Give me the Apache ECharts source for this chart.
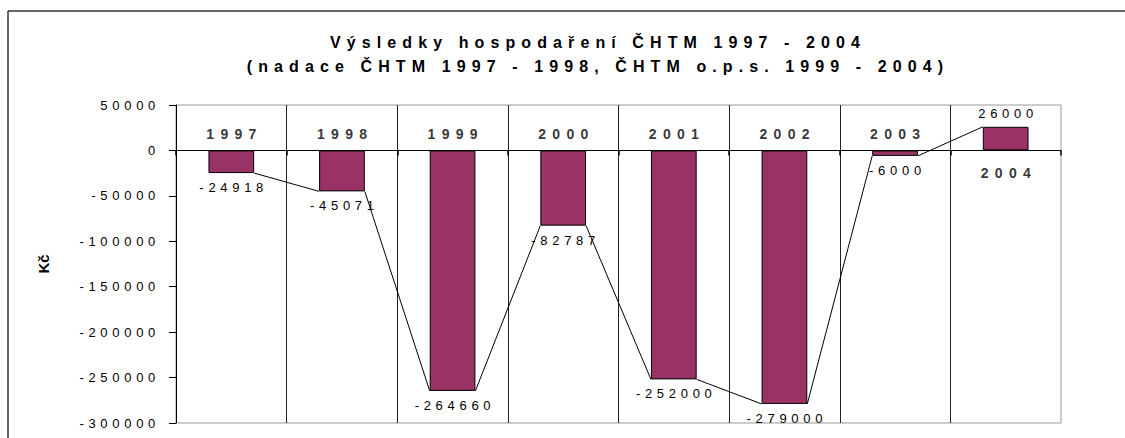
<!DOCTYPE html>
<html>
<head>
<meta charset="utf-8">
<script src="https://cdn.jsdelivr.net/npm/echarts@6/dist/echarts.min.js"></script>
<style>
html, body { margin: 0; padding: 0; background: #fff; }
#c { width: 1125px; height: 438px; }
#c svg text[style*="16px"] { letter-spacing: 6.1px; }
#c svg text[style*="14px"] { letter-spacing: 6.3px; }
#c svg text[style*="13px"] { letter-spacing: 4.7px; }
</style>
</head>
<body>
<div id="c"></div>
<script>
// ---- data ----
const years = ['1997', '1998', '1999', '2000', '2001', '2002', '2003', '2004'];
const results = [-24918, -45071, -264660, -82787, -252000, -279000, -6000, 26000];
const yMin = -300000;
const yMax = 50000;
const yStep = 50000;
const titleLines = ['Výsledky hospodaření ČHTM 1997 - 2004', '(nadace ČHTM 1997 - 1998, ČHTM o.p.s. 1999 - 2004)'];
const yAxisName = 'Kč';

// ---- style ----
const FONT = '"Liberation Sans", Arial, Helvetica, sans-serif';
const BAR_RATIO = 0.413;
const BAR_COLOR = '#993366';

const chart = echarts.init(document.getElementById('c'), null, { renderer: 'svg' });

const barData = results.map(v => ({
  value: v,
  label: { position: v < 0 ? 'bottom' : 'top', distance: v < 0 ? 8 : 7 }
}));

const catLabelData = years.map((y, i) => ({
  name: y,
  value: [i, 0],
  label: { position: results[i] < 0 ? 'top' : 'bottom', distance: results[i] < 0 ? 9 : 15 }
}));

const seriesLineData = results.slice(0, -1).map((v, i) => [i, v, results[i + 1]]);

chart.setOption({
  animation: false,
  backgroundColor: '#fff',
  title: {
    text: titleLines.join('\n'),
    left: 598,
    top: 30,
    padding: 0,
    textAlign: 'center',
    textStyle: {
      fontFamily: FONT,
      fontSize: 16,
      fontWeight: 'bold',
      color: '#000',
      lineHeight: 24
    }
  },
  graphic: [
    {
      type: 'line',
      silent: true,
      z: -10,
      shape: { x1: 8, y1: 11, x2: 1125, y2: 11 },
      style: { stroke: '#333', lineWidth: 1.5 }
    },
    {
      type: 'line',
      silent: true,
      z: -10,
      shape: { x1: 8, y1: 11, x2: 8, y2: 438 },
      style: { stroke: '#333', lineWidth: 1.5 }
    }
  ],
  grid: {
    left: 176,
    right: 64,
    top: 105,
    bottom: 15,
    show: true,
    borderColor: '#999',
    borderWidth: 1,
    backgroundColor: 'transparent',
    containLabel: false,
    outerBoundsMode: 'none'
  },
  xAxis: {
    type: 'category',
    data: years,
    boundaryGap: true,
    axisLine: { show: true, onZero: true, lineStyle: { color: '#000', width: 1 } },
    axisTick: { show: true, length: 5, interval: 0, lineStyle: { color: '#000', width: 1.5 } },
    axisLabel: { show: false },
    splitLine: {
      show: true,
      interval: 0,
      showMinLine: false,
      showMaxLine: false,
      lineStyle: { color: '#222', width: 1 }
    }
  },
  yAxis: {
    type: 'value',
    min: yMin,
    max: yMax,
    interval: yStep,
    name: yAxisName,
    nameLocation: 'middle',
    nameGap: 125,
    nameTextStyle: { fontFamily: FONT, fontSize: 15, fontWeight: 'bold', color: '#000' },
    axisLine: { show: true, onZero: false, lineStyle: { color: '#000', width: 1 } },
    axisTick: { show: true, length: 7, lineStyle: { color: '#000' } },
    axisLabel: {
      show: true,
      margin: 16,
      fontFamily: FONT,
      fontSize: 13,
      color: '#000',
      formatter: v => String(v)
    },
    splitLine: { show: false }
  },
  series: [
    {
      type: 'bar',
      data: barData,
      barWidth: (BAR_RATIO * 100) + '%',
      itemStyle: { color: BAR_COLOR, borderColor: '#000', borderWidth: 1 },
      label: {
        show: true,
        fontFamily: FONT,
        fontSize: 13,
        color: '#000',
        offset: [2.4, 0],
        formatter: p => String(p.value)
      },
      silent: true,
      z: 3
    },
    {
      type: 'custom',
      data: seriesLineData,
      encode: { x: 0, y: [1, 2] },
      silent: true,
      z: 4,
      renderItem: function (params, api) {
        const i = api.value(0);
        const p1 = api.coord([i, api.value(1)]);
        const p2 = api.coord([i + 1, api.value(2)]);
        const hw = api.size([1, 0])[0] * BAR_RATIO / 2;
        return {
          type: 'line',
          shape: { x1: p1[0] + hw, y1: p1[1], x2: p2[0] - hw, y2: p2[1] },
          style: { stroke: '#000', lineWidth: 1, fill: null }
        };
      }
    },
    {
      type: 'scatter',
      data: catLabelData,
      symbolSize: 1,
      itemStyle: { color: 'rgba(0,0,0,0)' },
      silent: true,
      z: 5,
      label: {
        show: true,
        formatter: '{b}',
        fontFamily: FONT,
        fontSize: 14,
        fontWeight: 'bold',
        color: '#000',
        offset: [3.2, 0]
      }
    }
  ]
});
</script>
</body>
</html>
